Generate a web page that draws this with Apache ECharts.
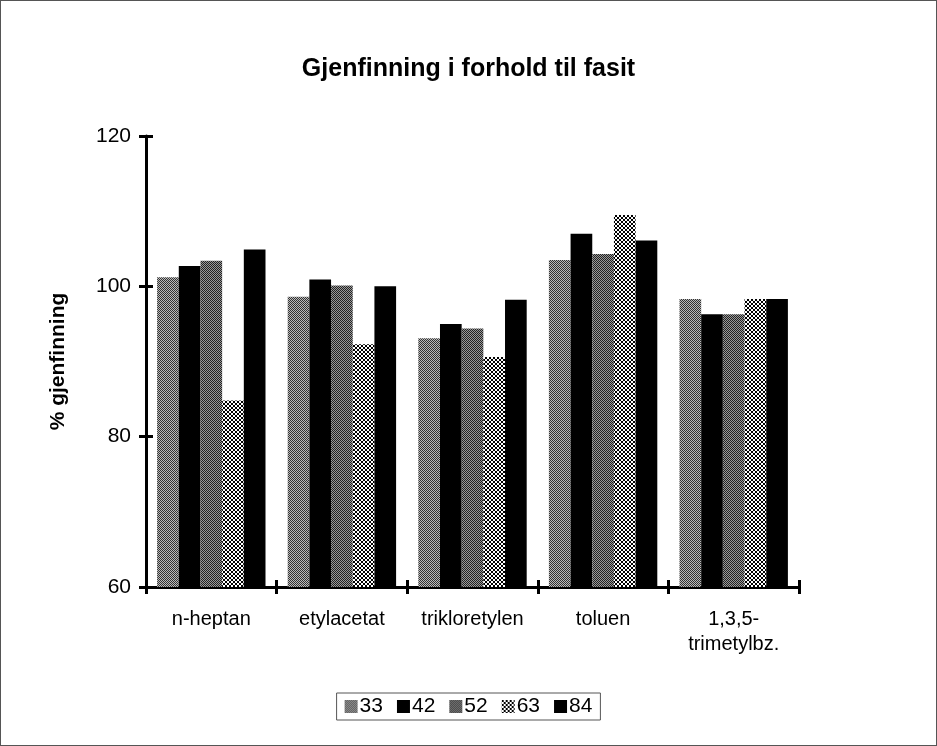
<!DOCTYPE html>
<html><head><meta charset="utf-8">
<script src="https://cdn.jsdelivr.net/npm/echarts@6/dist/echarts.min.js"></script>
<style>html,body{margin:0;padding:0;background:#fff}#c{width:935px;height:744px;border:1px solid #555}</style>
</head><body><div id="c"></div>
<script>
const categories = ['n-heptan','etylacetat','trikloretylen','toluen','1,3,5-\ntrimetylbz.'];
const seriesNames = ['33','42','52','63','84'];
const s33 = [101.2, 98.6, 93.1, 103.5, 98.3];
const s42 = [102.7, 100.9, 95.0, 107.0, 96.3];
const s52 = [103.4, 100.1, 94.4, 104.3, 96.3];
const s63 = [84.8, 92.3, 90.6, 109.5, 98.3];
const s84 = [104.9, 100.0, 98.2, 106.1, 98.3];
const yTicks = [60, 80, 100, 120];

function pattern(fg, bg, cell) {
  const c = document.createElement('canvas');
  c.width = cell*2; c.height = cell*2;
  const g = c.getContext('2d');
  g.fillStyle = bg; g.fillRect(0,0,c.width,c.height);
  g.fillStyle = fg;
  g.fillRect(0,0,cell,cell); g.fillRect(cell,cell,cell,cell);
  return {image: c, repeat: 'repeat'};
}
const colors = [pattern('#333','#bbb',1), '#000', pattern('#222','#999',1), pattern('#000','#fff',2), '#000'];
const data = [s33, s42, s52, s63, s84];
const F = 'Liberation Sans, Arial';

const chart = echarts.init(document.getElementById('c'));
chart.setOption({
  animation:false,
  title:{text:'Gjenfinning i forhold til fasit', left:'center', top:51,
    textStyle:{fontFamily:F, fontWeight:'bold', fontSize:25, color:'#000'}},
  legend:{bottom:25, left:'center', itemWidth:13, itemHeight:13, itemGap:14,
    borderColor:'#555', borderWidth:1, padding:[3,8,3,8], icon:'rect',
    textStyle:{fontFamily:F, fontSize:21, color:'#000', padding:[0,0,0,-3]}},
  grid:{left:145, right:137, top:135, bottom:158},
  xAxis:[{type:'category', data:categories, axisLine:{lineStyle:{color:'#000', width:3}},
    axisTick:{show:true, length:7, lineStyle:{color:'#000', width:3}},
    axisLabel:{interval:0, fontFamily:F, fontSize:20, color:'#000', margin:20, lineHeight:25}},
    {type:'category', data:categories, position:'bottom', axisLine:{show:false},
     axisTick:{show:true, inside:true, length:7, lineStyle:{color:'#000', width:3}}, axisLabel:{show:false}}],
  yAxis:[{type:'value', min:60, max:120, interval:20, axisLine:{show:true, lineStyle:{color:'#000', width:3}},
    axisTick:{show:true, length:7, lineStyle:{color:'#000', width:3}},
    splitLine:{show:false},
    name:'% gjenfinning', nameLocation:'middle', nameGap:77, nameRotate:90,
    nameTextStyle:{fontFamily:F, fontWeight:'bold', fontSize:21, color:'#000'},
    axisLabel:{fontFamily:F, fontSize:21, color:'#000', margin:15}},
    {type:'value', min:60, max:120, interval:20, position:'left', axisLine:{show:false},
     axisTick:{show:true, inside:true, length:7, lineStyle:{color:'#000', width:3}},
     splitLine:{show:false}, axisLabel:{show:false}}],
  series: seriesNames.map((n,i)=>({name:n, type:'bar', data:data[i], barGap:'0%', barCategoryGap:'17%',
    itemStyle:{color:colors[i]}}))
});
</script></body></html>
